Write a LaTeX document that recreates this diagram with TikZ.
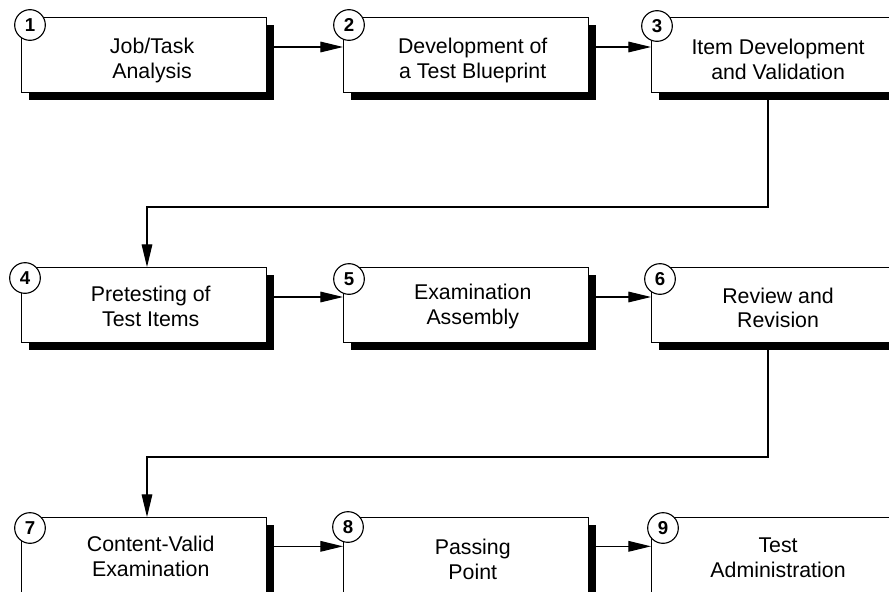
\documentclass[tikz,border=0pt]{standalone}
\usepackage{fontspec}
\setmainfont{Liberation Sans}
\usetikzlibrary{arrows.meta,shadows}
\begin{document}
\begin{tikzpicture}[x=0.75pt,y=-0.75pt,
 box/.style={draw, line width=0.85pt, fill=white, minimum width=183.75pt, minimum height=56.25pt, inner sep=0pt, anchor=north west,
   general shadow={shadow xshift=5.25pt, shadow yshift=-5.25pt, fill=black}},
 lbl/.style={align=center, font=\fontsize{16}{18.5}\selectfont, inner sep=0pt},
 num/.style={circle, draw, line width=0.85pt, fill=white, minimum size=23pt, inner sep=0pt, font=\fontsize{14}{15}\selectfont\bfseries},
 conn/.style={line width=0.85pt, -{Triangle[length=17pt,width=8pt]}}
]
\useasboundingbox (0,0) rectangle (889,592);
% boxes
\node[box] (b1) at (21,17) {};
\node[box] (b2) at (343,17) {};
\node[box] (b3) at (651,17) {};
\node[box] (b4) at (21,267) {};
\node[box] (b5) at (343,267) {};
\node[box] (b6) at (651,267) {};
\node[box] (b7) at (21,517) {};
\node[box] (b8) at (343,517) {};
\node[box] (b9) at (651,517) {};
% labels
\node[lbl] (t1) at ([xshift=6pt,yshift=-4pt]b1.center) {Job/Task\\Analysis};
\node[lbl] (t2) at ([xshift=5pt,yshift=-4pt]b2.center) {Development of\\a Test Blueprint};
\node[lbl] (t3) at ([xshift=3pt,yshift=-3pt]b3.center) {Item Development\\and Validation};
\node[lbl] (t4) at ([xshift=5pt,yshift=-1pt]b4.center) {Pretesting of\\Test Items};
\node[lbl] (t5) at ([xshift=5pt,yshift=-1pt]b5.center) {Examination\\Assembly};
\node[lbl] (t6) at ([xshift=3pt,yshift=-2pt]b6.center) {Review and\\Revision};
\node[lbl] (t7) at ([xshift=5pt,yshift=-1pt]b7.center) {Content-Valid\\Examination};
\node[lbl] (t8) at ([xshift=5pt,yshift=-3pt]b8.center) {Passing\\Point};
\node[lbl] (t9) at ([xshift=3pt,yshift=-2pt]b9.center) {Test\\Administration};
% number circles
\node[num] (n1) at (30,25) {1};
\node[num] (n2) at (349,25) {2};
\node[num] (n3) at (657,26) {3};
\node[num] (n4) at (25,278) {4};
\node[num] (n5) at (349,279) {5};
\node[num] (n6) at (660,279) {6};
\node[num] (n7) at (30,528) {7};
\node[num] (n8) at (348,527) {8};
\node[num] (n9) at (663,528) {9};
% horizontal connectors
\draw[conn] ([xshift=5.25pt,yshift=-22.5pt]b1.north east) -- ([yshift=-22.5pt]b2.north west);
\draw[conn] ([xshift=5.25pt,yshift=-22.5pt]b2.north east) -- ([yshift=-22.5pt]b3.north west);
\draw[conn] ([xshift=5.25pt,yshift=-22.5pt]b4.north east) -- ([yshift=-22.5pt]b5.north west);
\draw[conn] ([xshift=5.25pt,yshift=-22.5pt]b5.north east) -- ([yshift=-22.5pt]b6.north west);
\draw[conn] ([xshift=5.25pt,yshift=-22pt]b7.north east) -- ([yshift=-22pt]b8.north west);
\draw[conn] ([xshift=5.25pt,yshift=-22pt]b8.north east) -- ([yshift=-22pt]b9.north west);
% row-to-row connectors
\coordinate (j1) at (768,207);
\coordinate (j2) at (147,207);
\coordinate (j3) at (768,457);
\coordinate (j4) at (147,457);
\draw[conn] (b3.south -| j1) -- (j1) -- (j2) -- (b4.north -| j2);
\draw[conn] (b6.south -| j3) -- (j3) -- (j4) -- (b7.north -| j4);
\end{tikzpicture}
\end{document}
